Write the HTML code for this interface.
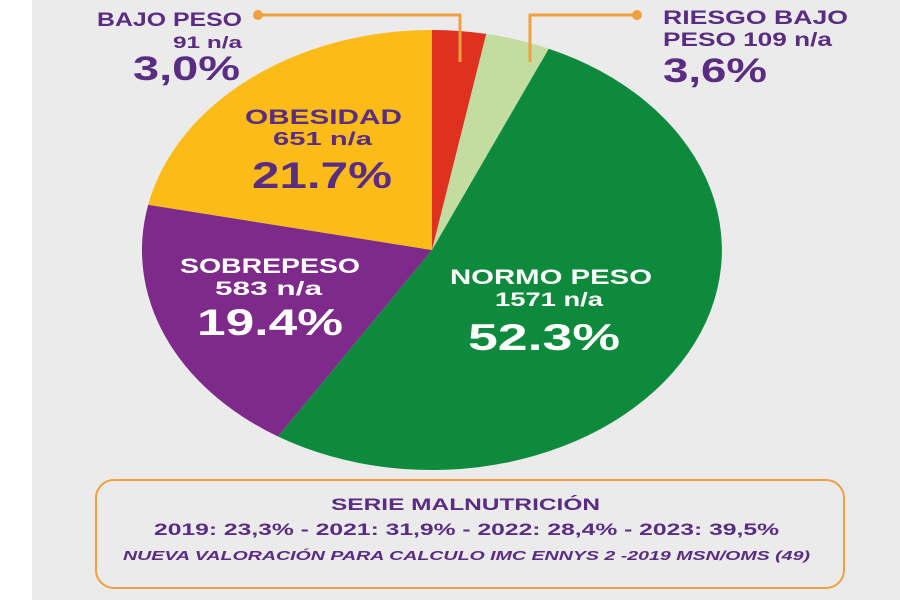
<!DOCTYPE html>
<html><head><meta charset="utf-8"><style>
html,body{margin:0;padding:0;width:900px;height:600px;overflow:hidden;background:#ebebeb}
svg{display:block}
text{font-family:"Liberation Sans",sans-serif;font-weight:bold}
</style></head><body>
<svg width="900" height="600" viewBox="0 0 900 600">
<rect x="0" y="0" width="900" height="600" fill="#ebebeb"/>
<rect x="0" y="0" width="32" height="600" fill="#fff"/>
<g stroke="none">
<path d="M432,250 L432,30 A290,220 0 0 1 486.3,33.9 Z" fill="#e0301e"/>
<path d="M432,250 L486.3,33.9 A290,220 0 0 1 548.8,48.7 Z" fill="#c3dca0"/>
<path d="M432,250 L548.8,48.7 A290,220 0 1 1 278,436.5 Z" fill="#0e8a3c"/>
<path d="M432,250 L278,436.5 A290,220 0 0 1 148.2,204.7 Z" fill="#7e2a8a"/>
<path d="M432,250 L148.2,204.7 A290,220 0 0 1 432,30 Z" fill="#fbbc1a"/>
</g>
<g stroke="#f0a040" stroke-width="3" fill="none">
<polyline points="258,15 460,15 460,62"/>
<polyline points="637,15 530,15 530,62"/>
</g>
<circle cx="258" cy="15" r="5" fill="#f0a040"/>
<circle cx="637" cy="15" r="5" fill="#f0a040"/>
<g fill="#5a2d82" lengthAdjust="spacingAndGlyphs">
<text x="97" y="26" font-size="19" textLength="145" lengthAdjust="spacingAndGlyphs">BAJO PESO</text>
<text x="173" y="48" font-size="17" textLength="69" lengthAdjust="spacingAndGlyphs" font-weight="normal">91 n/a</text>
<text x="133" y="80" font-size="34" textLength="107" lengthAdjust="spacingAndGlyphs">3,0%</text>
<text x="663" y="24" font-size="19" textLength="185" lengthAdjust="spacingAndGlyphs">RIESGO BAJO</text>
<text x="663" y="46" font-size="19" textLength="169" lengthAdjust="spacingAndGlyphs">PESO 109 n/a</text>
<text x="663" y="82" font-size="34" textLength="104" lengthAdjust="spacingAndGlyphs">3,6%</text>
<text x="245" y="124" font-size="21" textLength="157" lengthAdjust="spacingAndGlyphs">OBESIDAD</text>
<text x="273" y="145" font-size="18" textLength="99" lengthAdjust="spacingAndGlyphs" font-weight="normal">651 n/a</text>
<text x="252" y="188" font-size="37" textLength="140" lengthAdjust="spacingAndGlyphs">21.7%</text>
</g>
<g fill="#fff">
<text x="180" y="273" font-size="21" textLength="180" lengthAdjust="spacingAndGlyphs">SOBREPESO</text>
<text x="215" y="295" font-size="19" textLength="107" lengthAdjust="spacingAndGlyphs">583 n/a</text>
<text x="197" y="335" font-size="37" textLength="146" lengthAdjust="spacingAndGlyphs">19.4%</text>
<text x="450" y="284" font-size="21" textLength="202" lengthAdjust="spacingAndGlyphs">NORMO PESO</text>
<text x="495" y="306" font-size="19" textLength="108" lengthAdjust="spacingAndGlyphs">1571 n/a</text>
<text x="468" y="350" font-size="37" textLength="152" lengthAdjust="spacingAndGlyphs">52.3%</text>
</g>
<rect x="96" y="480" width="748" height="108" rx="18" fill="none" stroke="#f0a040" stroke-width="2"/>
<g fill="#5a2d82">
<text x="331" y="510" font-size="17" textLength="269" lengthAdjust="spacingAndGlyphs">SERIE MALNUTRICIÓN</text>
<text x="154" y="535" font-size="17" textLength="625" lengthAdjust="spacingAndGlyphs">2019: 23,3%  -  2021: 31,9%  - 2022: 28,4% -  2023: 39,5%</text>
<text x="123" y="560" font-size="13" font-style="italic" textLength="687" lengthAdjust="spacingAndGlyphs">NUEVA VALORACIÓN PARA CALCULO IMC ENNYS 2 -2019  MSN/OMS (49)</text>
</g>
</svg>
</body></html>
